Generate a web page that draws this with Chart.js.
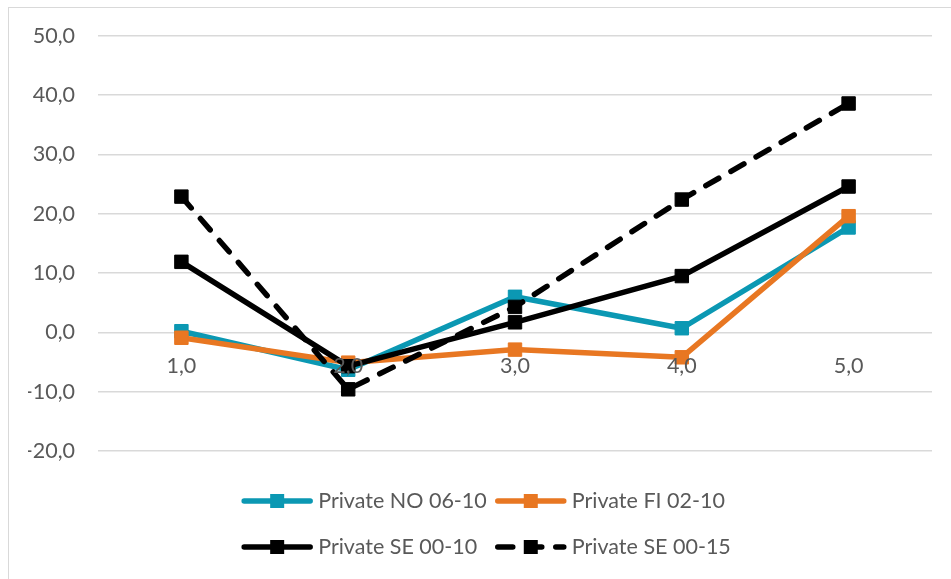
<!DOCTYPE html>
<html>
<head>
<meta charset="utf-8">
<script src="https://cdn.jsdelivr.net/npm/chart.js@4.4.1/dist/chart.umd.min.js"></script>
<style>
  html, body { margin: 0; padding: 0; background: #fff; overflow: hidden; }
  #frame { position: absolute; left: 8px; top: 7px; width: 980px; height: 620px; border: 1px solid #d9d9d9; }
  #chart { position: absolute; left: 0; top: 0; }
</style>
</head>
<body>
<div id="frame"></div>
<canvas id="chart" width="951" height="579"></canvas>
<script>
// data
const labels = ['1,0', '2,0', '3,0', '4,0', '5,0'];
const privateNO = [0.2, -6.3, 6.0, 0.7, 17.7];
const privateFI = [-0.9, -5.1, -2.9, -4.2, 19.6];
const privateSE10 = [11.9, -5.7, 1.7, 9.5, 24.6];
const privateSE15 = [22.9, -9.6, 4.3, 22.4, 38.6];
const seriesNames = ['Private NO 06-10', 'Private FI 02-10', 'Private SE 00-10', 'Private SE 00-15'];

const FONT = 'Lato';
const FONT_SIZE = 21.5;
const TEXT = '#595959';

// excel style legend: line + square marker, two columns
const sheetLegend = {
    id: 'sheetLegend',
    afterDraw(chart) {
        const ctx = chart.ctx;
        const ds = chart.data.datasets;
        const symbolW = 72, gap = 5, colGap = 8;
        const rowsY = [501, 547];
        const centerX = 486;
        ctx.save();
        ctx.font = FONT_SIZE + 'px ' + FONT;
        const widths = ds.map(d => symbolW + gap + ctx.measureText(d.label).width);
        const colW = [0, 0];
        widths.forEach((w, i) => { colW[i % 2] = Math.max(colW[i % 2], w); });
        const x0 = centerX - (colW[0] + colGap + colW[1]) / 2;
        ds.forEach((d, i) => {
            const x = x0 + (i % 2 ? colW[0] + colGap : 0);
            const y = rowsY[Math.floor(i / 2)];
            ctx.strokeStyle = d.borderColor;
            ctx.lineWidth = d.borderWidth;
            ctx.lineCap = 'round';
            ctx.setLineDash(d.borderDash || []);
            ctx.beginPath();
            ctx.moveTo(x + 3, y);
            ctx.lineTo(x + symbolW - 3, y);
            ctx.stroke();
            ctx.setLineDash([]);
            ctx.fillStyle = d.borderColor;
            ctx.fillRect(x + symbolW / 2 - 7, y - 7, 14, 14);
            ctx.fillStyle = TEXT;
            ctx.textBaseline = 'middle';
            ctx.textAlign = 'left';
            ctx.fillText(d.label, x + symbolW + gap, y);
        });
        ctx.restore();
    }
};

function series(label, data, color, order, dash) {
    return {
        label: label,
        data: data,
        borderColor: color,
        backgroundColor: color,
        borderWidth: 5.5,
        borderDash: dash || [],
        borderCapStyle: 'round',
        borderJoinStyle: 'round',
        pointStyle: 'rect',
        pointRadius: 9.5,
        pointBorderWidth: 1,
        pointBorderColor: color,
        pointBackgroundColor: color,
        tension: 0,
        order: order
    };
}

new Chart(document.getElementById('chart'), {
    type: 'line',
    data: {
        labels: labels,
        datasets: [
            series(seriesNames[0], privateNO, '#0b98b3', 4),
            series(seriesNames[1], privateFI, '#e87722', 3),
            series(seriesNames[2], privateSE10, '#000000', 2),
            series(seriesNames[3], privateSE15, '#000000', 1, [15, 14])
        ]
    },
    options: {
        responsive: false,
        animation: false,
        layout: { padding: { left: 28, right: 19, top: 29, bottom: 128 } },
        plugins: {
            legend: { display: false },
            tooltip: { enabled: false }
        },
        scales: {
            x: {
                position: { y: 0 },
                offset: true,
                grid: { display: false, drawTicks: false },
                border: { display: false },
                ticks: { z: 1, color: TEXT, font: { family: FONT, size: FONT_SIZE }, padding: 21, maxRotation: 0 },
                afterFit(scale) { scale.height = 0; }
            },
            y: {
                min: -20,
                max: 50,
                ticks: {
                    stepSize: 10,
                    color: TEXT,
                    font: { family: FONT, size: FONT_SIZE },
                    padding: 23,
                    callback: v => v.toFixed(1).replace('.', ',')
                },
                grid: { color: '#d9d9d9', lineWidth: 1.5, drawTicks: false },
                border: { display: false },
                afterFit(scale) { scale.width = 70; }
            }
        }
    },
    plugins: [sheetLegend]
});
</script>
</body>
</html>
